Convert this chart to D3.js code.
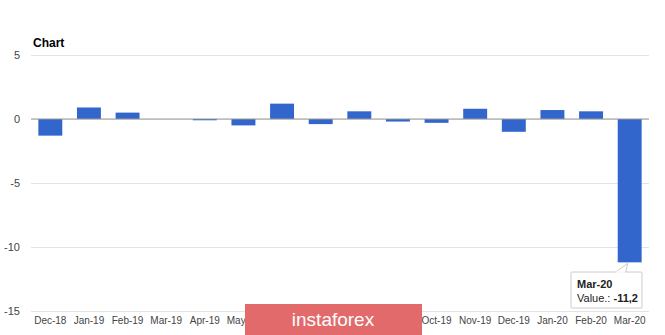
<!DOCTYPE html>
<html>
<head>
<meta charset="utf-8">
<script src="https://cdn.jsdelivr.net/npm/d3@7"></script>
<style>
  body { margin: 0; background: #fff; }
  text { font-family: Arial, 'Liberation Sans', sans-serif; }
</style>
</head>
<body>
<div id="chart"></div>
<script>
const months = ['Dec-18', 'Jan-19', 'Feb-19', 'Mar-19', 'Apr-19', 'May-19', 'Jun-19', 'Jul-19',
  'Aug-19', 'Sep-19', 'Oct-19', 'Nov-19', 'Dec-19', 'Jan-20', 'Feb-20', 'Mar-20']
const values = [-1.3, 0.9, 0.5, 0, -0.1, -0.5, 1.2, -0.4, 0.6, -0.2, -0.3, 0.8, -1.0, 0.7, 0.6, -11.2]
const yTicks = [5, 0, -5, -10, -15]

const width = 665
const height = 335

const svg = d3
  .select('#chart')
  .append('svg')
  .attr('width', width)
  .attr('height', height)

const x = d3.scaleBand()
  .domain(months)
  .range([31, 649])
  .paddingInner(0.38)
  .paddingOuter(0.19)

const y = d3.scaleLinear()
  .domain([-15, 5])
  .range([311, 55])

// gridlines + labels
const yAxis = d3.axisLeft(y)
  .tickValues(yTicks)
  .tickFormat(d => String(d))
  .tickSize(-(649 - 31))
  .tickPadding(11)

svg.append('g')
  .attr('class', 'y-axis')
  .attr('transform', 'translate(31,0)')
  .call(yAxis)
  .call(g => g.select('.domain').remove())
  .call(g => g.selectAll('line').attr('stroke', '#e3e3e3'))
  .call(g => g.selectAll('text').attr('fill', '#444').attr('font-size', 11))

// bars
svg.selectAll('rect.bar')
  .data(values)
  .enter()
  .append('rect')
  .attr('class', 'bar')
  .attr('x', (d, i) => x(months[i]))
  .attr('width', x.bandwidth())
  .attr('y', d => y(Math.max(0, d)))
  .attr('height', d => Math.abs(y(d) - y(0)))
  .attr('fill', '#3366cc')

// baseline
svg.append('line')
  .attr('x1', 31).attr('x2', 649)
  .attr('y1', y(0)).attr('y2', y(0))
  .attr('stroke', '#999')

// x labels
const xAxis = d3.axisBottom(x).tickSize(0).tickPadding(6)
svg.append('g')
  .attr('transform', 'translate(0,' + y(-15) + ')')
  .call(xAxis)
  .call(g => g.select('.domain').remove())
  .call(g => g.selectAll('text').attr('fill', '#444').attr('font-size', 10))

// title
svg.append('text')
  .attr('x', 33)
  .attr('y', 47)
  .attr('font-size', 12)
  .attr('font-weight', 'bold')
  .attr('fill', '#000')
  .text('Chart')

// tooltip for last bar
const last = months.length - 1
const bx = x(months[last]) + x.bandwidth() / 2
const by = y(values[last])
const tip = svg.append('g')
tip.append('path')
  .attr('d', `M${bx - 14},272 L${bx - 2},${by + 1} L${bx - 4},272`)
  .attr('fill', '#fff')
  .attr('stroke', '#ccc')
tip.append('rect')
  .attr('x', 571).attr('y', 272)
  .attr('width', 71).attr('height', 36)
  .attr('fill', '#fff')
  .attr('stroke', '#ccc')
  .attr('rx', 1)
tip.append('line')
  .attr('x1', bx - 13.5).attr('x2', bx - 4.5)
  .attr('y1', 272).attr('y2', 272)
  .attr('stroke', '#fff').attr('stroke-width', 1.5)
tip.append('text')
  .attr('x', 577).attr('y', 288)
  .attr('font-size', 11).attr('font-weight', 'bold').attr('fill', '#222')
  .text(months[last])
const vt = tip.append('text')
  .attr('x', 577).attr('y', 302)
  .attr('font-size', 11).attr('fill', '#222')
vt.append('tspan').text('Value.: ')
vt.append('tspan').attr('font-weight', 'bold').text(String(values[last]).replace('.', ','))

// watermark (covers some x labels, as in the source)
svg.append('rect')
  .attr('x', 245).attr('y', 304)
  .attr('width', 177).attr('height', 31)
  .attr('fill', '#e26a6a')
svg.append('text')
  .attr('x', 333).attr('y', 326)
  .attr('text-anchor', 'middle')
  .attr('font-size', 19)
  .attr('fill', '#fff')
  .attr('font-family', "'Open Sans', sans-serif")
  .text('instaforex')
</script>
</body>
</html>
